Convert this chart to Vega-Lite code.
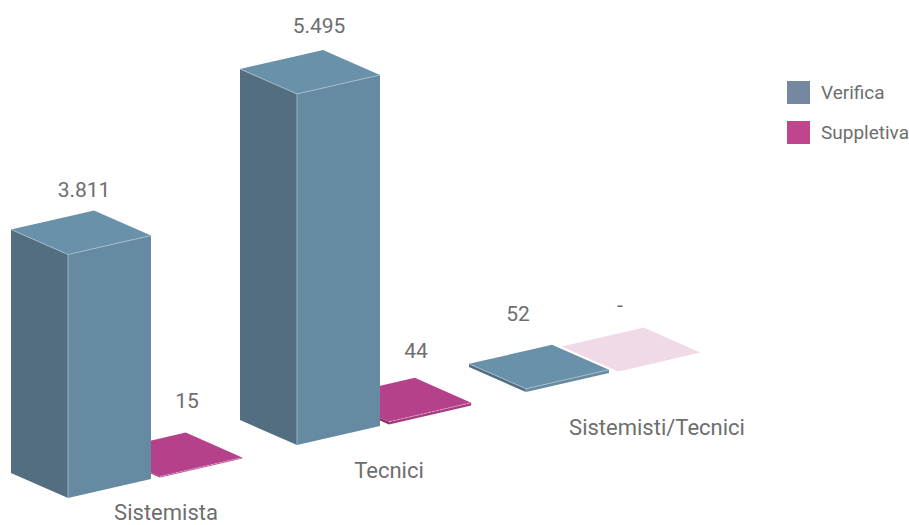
{
"$schema":"https://vega.github.io/schema/vega-lite/v6.json",
"width":909,"height":525,"padding":0,"autosize":{"type":"none"},
"background":"white",
"config":{"view":{"stroke":null},"text":{"font":"Roboto"}},
"data":{"values":[
{"category":"Sistemista","series":"Verifica","value":3811},
{"category":"Sistemista","series":"Suppletiva","value":15},
{"category":"Tecnici","series":"Verifica","value":5495},
{"category":"Tecnici","series":"Suppletiva","value":44},
{"category":"Sistemisti/Tecnici","series":"Verifica","value":52},
{"category":"Sistemisti/Tecnici","series":"Suppletiva","value":0}
]},
"transform":[
{"calculate":"indexof(['Sistemista','Tecnici','Sistemisti/Tecnici'],datum.category)","as":"g"},
{"calculate":"datum.series=='Suppletiva'?1:0","as":"s"},
{"calculate":"68+229*datum.g+92*datum.s","as":"fx"},
{"calculate":"422+829*datum.g+321*datum.s","as":"fy"},
{"calculate":"[{face:'left',x:-57,lo:391,hi:391+datum.value},{face:'left',x:0,lo:0,hi:datum.value},{face:'right',x:0,lo:0,hi:datum.value},{face:'right',x:83,lo:297,hi:297+datum.value},{face:'top',x:-57,lo:391+datum.value,hi:391+datum.value},{face:'top',x:0,lo:datum.value,hi:595+datum.value},{face:'top',x:26,lo:93+datum.value,hi:689+datum.value},{face:'top',x:83,lo:297+datum.value,hi:297+datum.value}]","as":"v"},
{"flatten":["v"]},
{"calculate":"datum.fx+datum.v.x*(datum.s==1?0.99:1)","as":"px"},
{"calculate":"datum.fy+datum.v.lo","as":"lo"},
{"calculate":"datum.fy+datum.v.hi","as":"hi"},
{"calculate":"datum.v.face","as":"face"},
{"calculate":"datum.v.x","as":"vx"},
{"calculate":"datum.category+'/'+datum.series+'/'+datum.face","as":"id"},
{"calculate":"datum.value==0?'S|zero':(datum.s==1?'S|':'V|')+datum.face","as":"tone"},
{"calculate":"datum.value==0?'-':replace(format(datum.value,','),',','.')","as":"label"},
{"calculate":"datum.fx+[[16,27],[22,27],[-8,2]][datum.g][datum.s]","as":"labelX"},
{"calculate":"datum.fy+datum.value+[[64,75],[67,70],[74,66]][datum.g][datum.s]/0.0639","as":"labelY"},
{"calculate":"datum.fx+[98,92,131][datum.g]","as":"catX"},
{"calculate":"datum.fy+[-15,-26,-36][datum.g]/0.0639","as":"catY"}
],
"layer":[
{"transform":[{"filter":"datum.series=='Suppletiva'"}],
 "mark":{"type":"area","interpolate":"linear"},
 "encoding":{
  "x":{"field":"px","type":"quantitative","scale":{"domain":[0,909],"nice":false,"zero":false},"axis":null},
  "y":{"field":"hi","type":"quantitative","stack":null,"scale":{"domain":[0,8216],"nice":false,"zero":false},"axis":null},
  "y2":{"field":"lo"},
  "detail":{"field":"id"},
  "color":{"field":"tone","type":"nominal",
   "scale":{"domain":["Verifica","Suppletiva","V|left","V|right","V|top","S|left","S|right","S|top","S|zero"],
            "range":["#74889F","#BF458F","#526E80","#668AA2","#6A91AA","#8F2F6C","#A63A80","#B5418A","#F0DAE7"]},
   "legend":{"values":["Verifica","Suppletiva"],"title":null,"orient":"none","legendX":787,"legendY":81,
     "symbolType":"square","symbolSize":529,"symbolStrokeWidth":0,"rowPadding":17,"labelFont":"Roboto","labelFontSize":19,"labelColor":"#6E6E6E","labelOffset":11}}
 }},
{"transform":[{"filter":"datum.series=='Suppletiva' && datum.value>0 && datum.face=='right'"}],
 "mark":{"type":"line","strokeWidth":0.8,"color":"#E3A9CC","strokeDash":[3,1]},
 "encoding":{"x":{"field":"px","type":"quantitative"},"y":{"field":"hi","type":"quantitative"},"detail":{"field":"id"}}},
{"transform":[{"filter":"datum.series=='Verifica'"}],
 "mark":{"type":"area","interpolate":"linear"},
 "encoding":{
  "x":{"field":"px","type":"quantitative"},
  "y":{"field":"hi","type":"quantitative","stack":null},
  "y2":{"field":"lo"},
  "detail":{"field":"id"},
  "color":{"field":"tone","type":"nominal"}
 }},
{"transform":[{"filter":"datum.series=='Verifica' && datum.face!='top'"}],
 "mark":{"type":"line","strokeWidth":0.8,"color":"#A9C0CF"},
 "encoding":{"x":{"field":"px","type":"quantitative"},"y":{"field":"hi","type":"quantitative"},"detail":{"field":"id"}}},
{"transform":[{"filter":"datum.series=='Verifica' && datum.face=='right' && datum.vx==0"}],
 "mark":{"type":"rule","strokeWidth":0.8,"color":"#A9C0CF"},
 "encoding":{"x":{"field":"px","type":"quantitative"},"y":{"field":"hi","type":"quantitative"},"y2":{"field":"lo"}}},
{"transform":[{"filter":"datum.face=='top' && datum.vx==0"}],
 "mark":{"type":"text","fontSize":21,"color":"#6E6E6E","font":"Roboto","align":"center","baseline":"middle"},
 "encoding":{"x":{"field":"labelX","type":"quantitative"},"y":{"field":"labelY","type":"quantitative"},"text":{"field":"label"}}},
{"transform":[{"filter":"datum.face=='top' && datum.vx==0 && datum.series=='Verifica'"}],
 "mark":{"type":"text","fontSize":22,"color":"#6E6E6E","font":"Roboto","align":"center","baseline":"middle"},
 "encoding":{"x":{"field":"catX","type":"quantitative"},"y":{"field":"catY","type":"quantitative"},"text":{"field":"category"}}}
]
}
